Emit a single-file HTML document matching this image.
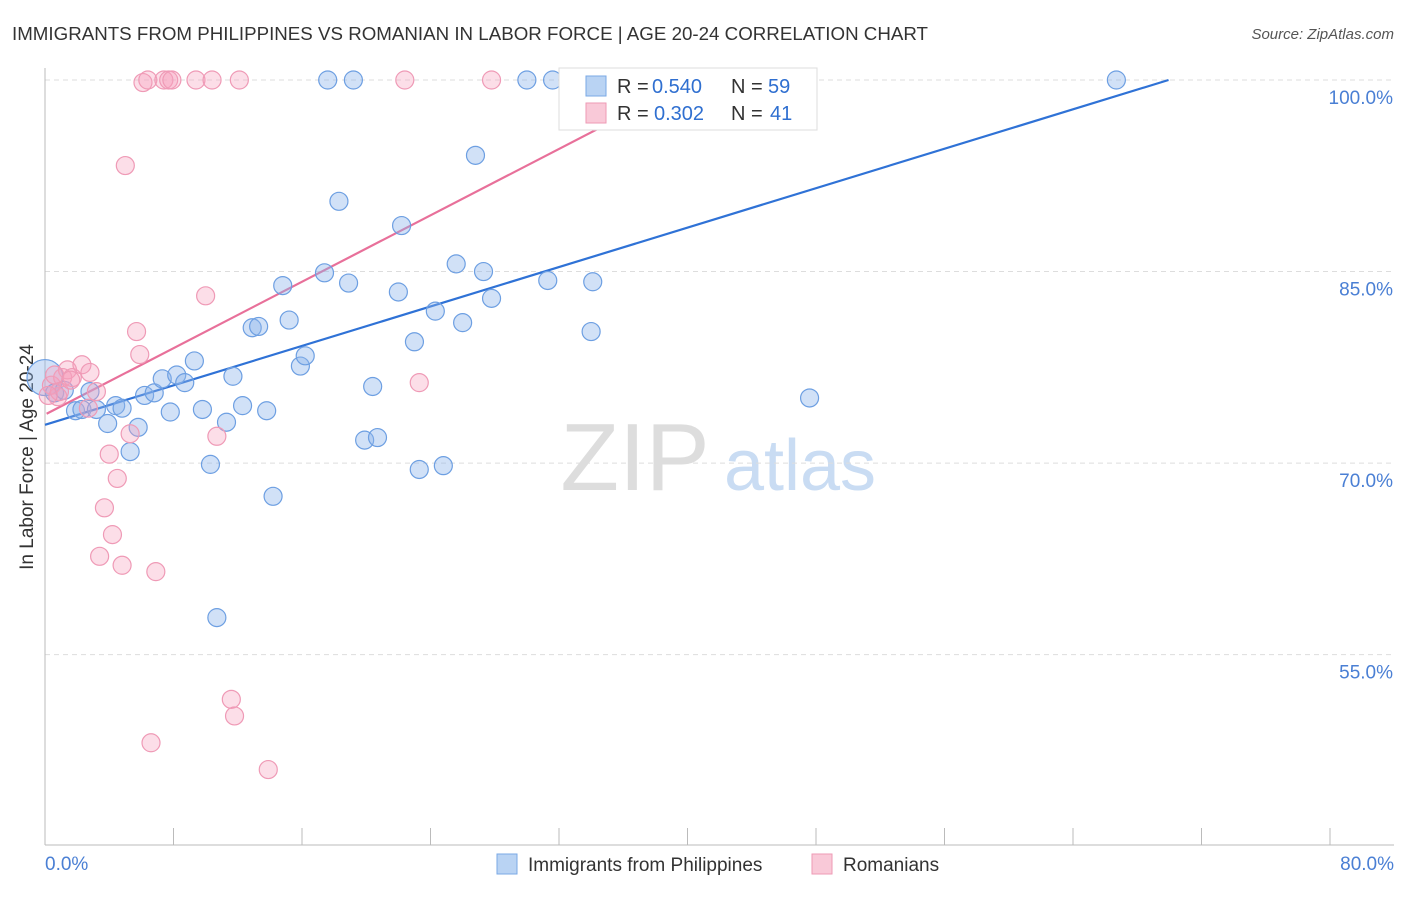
<!DOCTYPE html>
<html><head><meta charset="utf-8"><style>
body{margin:0;background:#fff;font-family:"Liberation Sans",sans-serif;}
svg text{font-family:"Liberation Sans",sans-serif;}
</style></head><body>
<svg id="chart" width="1406" height="892">
<text x="12" y="40" font-size="18" fill="#333" textLength="916" lengthAdjust="spacingAndGlyphs">IMMIGRANTS FROM PHILIPPINES VS ROMANIAN IN LABOR FORCE | AGE 20-24 CORRELATION CHART</text>
<text x="1394" y="39" font-size="15" fill="#555" font-style="italic" text-anchor="end">Source: ZipAtlas.com</text>
<text x="33" y="457" font-size="19" fill="#333" text-anchor="middle" transform="rotate(-90 33 457)">In Labor Force | Age 20-24</text>
<g><text x="635" y="490" font-size="96" fill="#ddd" font-family="Liberation Serif" text-anchor="middle">ZIP</text><text x="800" y="490" font-size="72" fill="#c9dcf3" text-anchor="middle">atlas</text></g>
<g id="grid"></g><g id="axes"></g><g id="lines"></g><g id="dots"></g>
<g id="legend">
<rect x="559" y="68" width="258" height="62" fill="#fff" stroke="#ddd"/>
<rect x="586" y="76" width="20" height="20" fill="#b9d3f3" stroke="#7aa8e6"/>
<text y="93" font-size="20" fill="#333"><tspan x="617">R =</tspan><tspan x="652" fill="#2f6fd0">0.540</tspan><tspan x="731">N =</tspan><tspan x="768" fill="#2f6fd0">59</tspan></text>
<rect x="586" y="103" width="20" height="20" fill="#f9c9d8" stroke="#ee9ab5"/>
<text y="120" font-size="20" fill="#333"><tspan x="617">R =</tspan><tspan x="654" fill="#2f6fd0">0.302</tspan><tspan x="731">N =</tspan><tspan x="770" fill="#2f6fd0">41</tspan></text>
</g>
<g>
<rect x="497" y="854" width="20" height="20" fill="#b9d3f3" stroke="#7aa8e6"/>
<text x="528" y="871" font-size="19" fill="#333">Immigrants from Philippines</text>
<rect x="812" y="854" width="20" height="20" fill="#f9c9d8" stroke="#ee9ab5"/>
<text x="843" y="871" font-size="19" fill="#333">Romanians</text>
</g>
</svg>
<script>
const blueX=[0,0.6,1.2,1.9,2.3,2.8,3.2,3.9,4.4,4.8,5.3,5.8,6.2,6.8,7.3,7.8,8.2,8.7,9.3,9.8,10.3,10.7,11.3,11.7,12.3,12.9,13.3,13.8,14.2,14.8,15.2,15.9,16.2,17.4,17.6,18.3,18.9,19.2,19.9,20.4,20.7,22.0,22.2,23.0,23.3,24.3,24.8,25.6,26.0,26.8,27.3,27.8,30.0,31.3,31.6,34.0,34.1,47.6,66.7];
const blueY=[76.7,75.5,75.7,74.1,74.2,75.6,74.2,73.1,74.5,74.3,70.9,72.8,75.3,75.5,76.6,74.0,76.9,76.3,78.0,74.2,69.9,57.9,73.2,76.8,74.5,80.6,80.7,74.1,67.4,83.9,81.2,77.6,78.4,84.9,100,90.5,84.1,100,71.8,76.0,72.0,83.4,88.6,79.5,69.5,81.9,69.8,85.6,81.0,94.1,85.0,82.9,100,84.3,100,80.3,84.2,75.1,100];
const pinkX=[0.4,0.8,1.1,1.4,1.7,2.3,2.7,2.8,3.2,3.4,3.7,4.0,4.2,4.5,4.8,5.0,5.3,5.7,5.9,6.1,6.4,6.6,6.9,7.4,7.7,7.9,9.4,10.0,10.4,10.7,11.6,11.8,12.1,13.9,22.4,23.3,27.8,0.6,0.9,0.2,1.6];
const pinkY=[76.1,75.2,76.7,77.3,76.7,77.7,74.3,77.1,75.6,62.7,66.5,70.7,64.4,68.8,62.0,93.3,72.3,80.3,78.5,99.8,100,48.1,61.5,100,100,100,100,83.1,100,72.1,51.5,50.2,100,46.0,100,76.3,100,76.9,75.6,75.3,76.5];
const yTicks=[100,85,70,55];
const blueTrend=[73.0,0.386];
const pinkTrend=[73.8,0.65];
const NS='http://www.w3.org/2000/svg';
const sx=v=>45+v/80*1285, sy=v=>80+(100-v)*12.77;
function mk(t,a,p){const e=document.createElementNS(NS,t);for(const k in a)e.setAttribute(k,a[k]);p.appendChild(e);return e;}
const grid=document.getElementById('grid'),axes=document.getElementById('axes'),lines=document.getElementById('lines'),dots=document.getElementById('dots');
yTicks.forEach(v=>{
 const l=mk('line',{x1:45,x2:1394,y1:sy(v),y2:sy(v),stroke:'#ddd','stroke-dasharray':'5,4'},grid);
 
 
 const t=mk('text',{x:1393,y:sy(v)+24,'font-size':19,fill:'#4a7fd4','text-anchor':'end'},axes);
 t.textContent=v.toFixed(1)+'%';
 
 
});
mk('line',{x1:45,x2:45,y1:68,y2:845,stroke:'#bbb'},axes);
mk('line',{x1:45,x2:1394,y1:845,y2:845,stroke:'#bbb'},axes);
for(let i=0;i<=10;i++){const x=sx(i*8);mk('line',{x1:x,x2:x,y1:828,y2:845,stroke:'#bbb'},axes);}
[['0.0%',45,'start'],['80.0%',1394,'end']].forEach(([s,x,a])=>{const t=mk('text',{x:x,y:870,'font-size':19,fill:'#4a7fd4','text-anchor':a},axes);t.textContent=s;
 
 });
function trend(c,x0,x1,col,name){const l=mk('line',{x1:sx(x0),y1:sy(c[0]+c[1]*x0),x2:sx(x1),y2:sy(c[0]+c[1]*x1),stroke:col,'stroke-width':2.2},lines);
 
 }
trend(blueTrend,0,(100-blueTrend[0])/blueTrend[1],'#2f72d6','trendline-philippines');
trend(pinkTrend,0.1,(100-pinkTrend[0])/pinkTrend[1],'#e8709a','trendline-romanians');
blueX.forEach((x,i)=>{const c=mk('circle',{cx:sx(x),cy:sy(blueY[i]),r:i===0?18:9,fill:'rgba(140,180,235,0.4)',stroke:'#6d9fe2','stroke-width':1.2},dots);
 
 });
pinkX.forEach((x,i)=>{const c=mk('circle',{cx:sx(x),cy:sy(pinkY[i]),r:9,fill:'rgba(245,160,190,0.35)',stroke:'#ef9ab6','stroke-width':1.2},dots);
 
 });
document.getElementById('chart').appendChild(document.getElementById('legend'));
</script>
</body></html>
